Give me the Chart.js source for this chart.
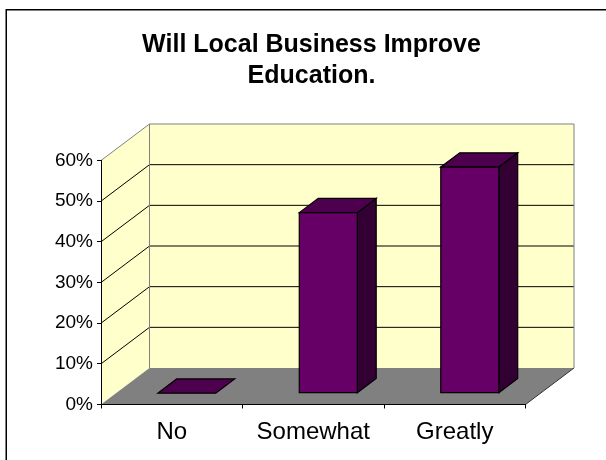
<!DOCTYPE html>
<html>
<head>
<meta charset="utf-8">
<title>Will Local Business Improve Education.</title>
<script src="https://cdn.jsdelivr.net/npm/chart.js@4/dist/chart.umd.min.js"></script>
<style>
  html, body { margin: 0; padding: 0; background: #ffffff; }
  canvas { display: block; }
</style>
</head>
<body>
<canvas id="chart" width="606" height="460"></canvas>
<script>
// Survey answers and their share of respondents
const categories = ['No', 'Somewhat', 'Greatly'];
const shares = [0, 0.444, 0.556];
const yTicks = [0, 0.1, 0.2, 0.3, 0.4, 0.5, 0.6];
const titleLines = ['Will Local Business Improve', 'Education.'];

const FONT = '"Liberation Sans", Arial, sans-serif';

// Oblique depth of the box (back wall offset from the front plane)
const DEPTH_X = 48.5;
const DEPTH_Y = -36.5;
// Bars sit between these fractions of the depth
const BAR_FRONT = 0.31;
const BAR_BACK = 0.70;

const WALL = '#FFFFCC';
const FLOOR = '#808080';
const EDGE = '#808080';
const BAR_FACE = '#660066';
const BAR_TOP = '#4D004D';
const BAR_SIDE = '#330033';

function poly(ctx, pts) {
  ctx.beginPath();
  ctx.moveTo(pts[0][0], pts[0][1]);
  for (let i = 1; i < pts.length; i++) ctx.lineTo(pts[i][0], pts[i][1]);
  ctx.closePath();
}

const frame = {
  id: 'frame',
  beforeDraw(chart) {
    const ctx = chart.ctx;
    const ca = chart.chartArea;
    const ys = chart.scales.y;
    const L = ca.left, R = ca.right, T = ca.top, B = ca.bottom;
    ctx.save();

    // outer border
    ctx.strokeStyle = '#000';
    ctx.lineWidth = 1.5;
    ctx.strokeRect(6.25, 9.75, 800, 600);

    // title
    ctx.fillStyle = '#000';
    ctx.font = 'bold 25px ' + FONT;
    ctx.textAlign = 'center';
    ctx.textBaseline = 'alphabetic';
    ctx.fillText(titleLines[0], 311.5, 51.7);
    ctx.fillText(titleLines[1], 311.5, 83.3);

    // side wall
    ctx.fillStyle = WALL;
    poly(ctx, [[L, T], [L + DEPTH_X, T + DEPTH_Y], [L + DEPTH_X, B + DEPTH_Y], [L, B]]);
    ctx.fill();
    // back wall
    ctx.fillRect(L + DEPTH_X, T + DEPTH_Y, R - L, B - T);
    // floor
    ctx.fillStyle = FLOOR;
    poly(ctx, [[L, B], [L + DEPTH_X, B + DEPTH_Y], [R + DEPTH_X, B + DEPTH_Y], [R, B]]);
    ctx.fill();

    // gridlines across side and back walls
    ctx.lineWidth = 1;
    ctx.strokeStyle = '#000';
    yTicks.forEach((v) => {
      if (v <= 0 || v >= yTicks[yTicks.length - 1]) return;
      const py = ys.getPixelForValue(v);
      ctx.beginPath();
      ctx.moveTo(L, py);
      ctx.lineTo(L + DEPTH_X, py + DEPTH_Y);
      ctx.lineTo(R + DEPTH_X, py + DEPTH_Y);
      ctx.stroke();
    });

    // wall edges
    ctx.strokeStyle = EDGE;
    ctx.beginPath();
    ctx.moveTo(L, T);
    ctx.lineTo(L + DEPTH_X, T + DEPTH_Y);
    ctx.lineTo(R + DEPTH_X, T + DEPTH_Y);
    ctx.lineTo(R + DEPTH_X, B + DEPTH_Y);
    ctx.moveTo(L + DEPTH_X, T + DEPTH_Y);
    ctx.lineTo(L + DEPTH_X, B + DEPTH_Y);
    ctx.stroke();
    // floor side edge
    ctx.strokeStyle = '#333';
    ctx.beginPath();
    ctx.moveTo(R, B);
    ctx.lineTo(R + DEPTH_X, B + DEPTH_Y);
    ctx.stroke();
    ctx.restore();
  }
};

const prisms = {
  id: 'prisms',
  afterDatasetsDraw(chart) {
    const ctx = chart.ctx;
    const meta = chart.getDatasetMeta(0);
    const ddx = (BAR_BACK - BAR_FRONT) * DEPTH_X;
    const ddy = (BAR_BACK - BAR_FRONT) * DEPTH_Y;
    ctx.save();
    ctx.lineWidth = 1.2;
    ctx.strokeStyle = '#000';
    ctx.lineJoin = 'miter';
    meta.data.forEach((bar) => {
      const p = bar.getProps(['x', 'y', 'base', 'width'], true);
      const x0 = p.x - p.width / 2 + BAR_FRONT * DEPTH_X;
      const x1 = p.x + p.width / 2 + BAR_FRONT * DEPTH_X;
      const yt = p.y + BAR_FRONT * DEPTH_Y;
      const yb = p.base + BAR_FRONT * DEPTH_Y;
      const tall = yb - yt > 0.5;
      if (tall) {
        // right side face
        ctx.fillStyle = BAR_SIDE;
        poly(ctx, [[x1, yt], [x1 + ddx, yt + ddy], [x1 + ddx, yb + ddy], [x1, yb]]);
        ctx.fill();
        ctx.stroke();
      }
      // top face
      ctx.fillStyle = BAR_TOP;
      poly(ctx, [[x0, yt], [x0 + ddx, yt + ddy], [x1 + ddx, yt + ddy], [x1, yt]]);
      ctx.fill();
      ctx.stroke();
      if (tall) {
        // front face
        ctx.fillStyle = BAR_FACE;
        ctx.beginPath();
        ctx.rect(x0, yt, x1 - x0, yb - yt);
        ctx.fill();
        ctx.stroke();
      }
    });
    ctx.restore();
  }
};

new Chart(document.getElementById('chart'), {
  type: 'bar',
  data: {
    labels: categories,
    datasets: [{
      data: shares,
      backgroundColor: 'rgba(0,0,0,0)',
      borderWidth: 0,
      barPercentage: 0.41,
      categoryPercentage: 1
    }]
  },
  options: {
    responsive: false,
    animation: false,
    events: [],
    layout: { padding: { left: 0, top: 160.5, right: 80.5, bottom: 0 } },
    plugins: {
      legend: { display: false },
      title: { display: false },
      tooltip: { enabled: false }
    },
    scales: {
      x: {
        afterFit(scale) { scale.height = 55.5; },
        grid: { offset: true, drawOnChartArea: false, tickLength: 4, color: '#000' },
        border: { color: '#000', width: 1 },
        ticks: { color: '#000', font: { family: FONT, size: 24 }, padding: 9, maxRotation: 0 }
      },
      y: {
        min: 0,
        max: 0.6,
        afterFit(scale) { scale.width = 101; },
        afterBuildTicks(scale) { scale.ticks = yTicks.map((v) => ({ value: v })); },
        grid: { drawOnChartArea: false, tickLength: 4, color: '#000' },
        border: { color: '#000', width: 1 },
        ticks: {
          color: '#000',
          font: { family: FONT, size: 19 },
          padding: 4,
          callback: (v) => Math.round(v * 100) + '%'
        }
      }
    }
  },
  plugins: [frame, prisms]
});
</script>
</body>
</html>
